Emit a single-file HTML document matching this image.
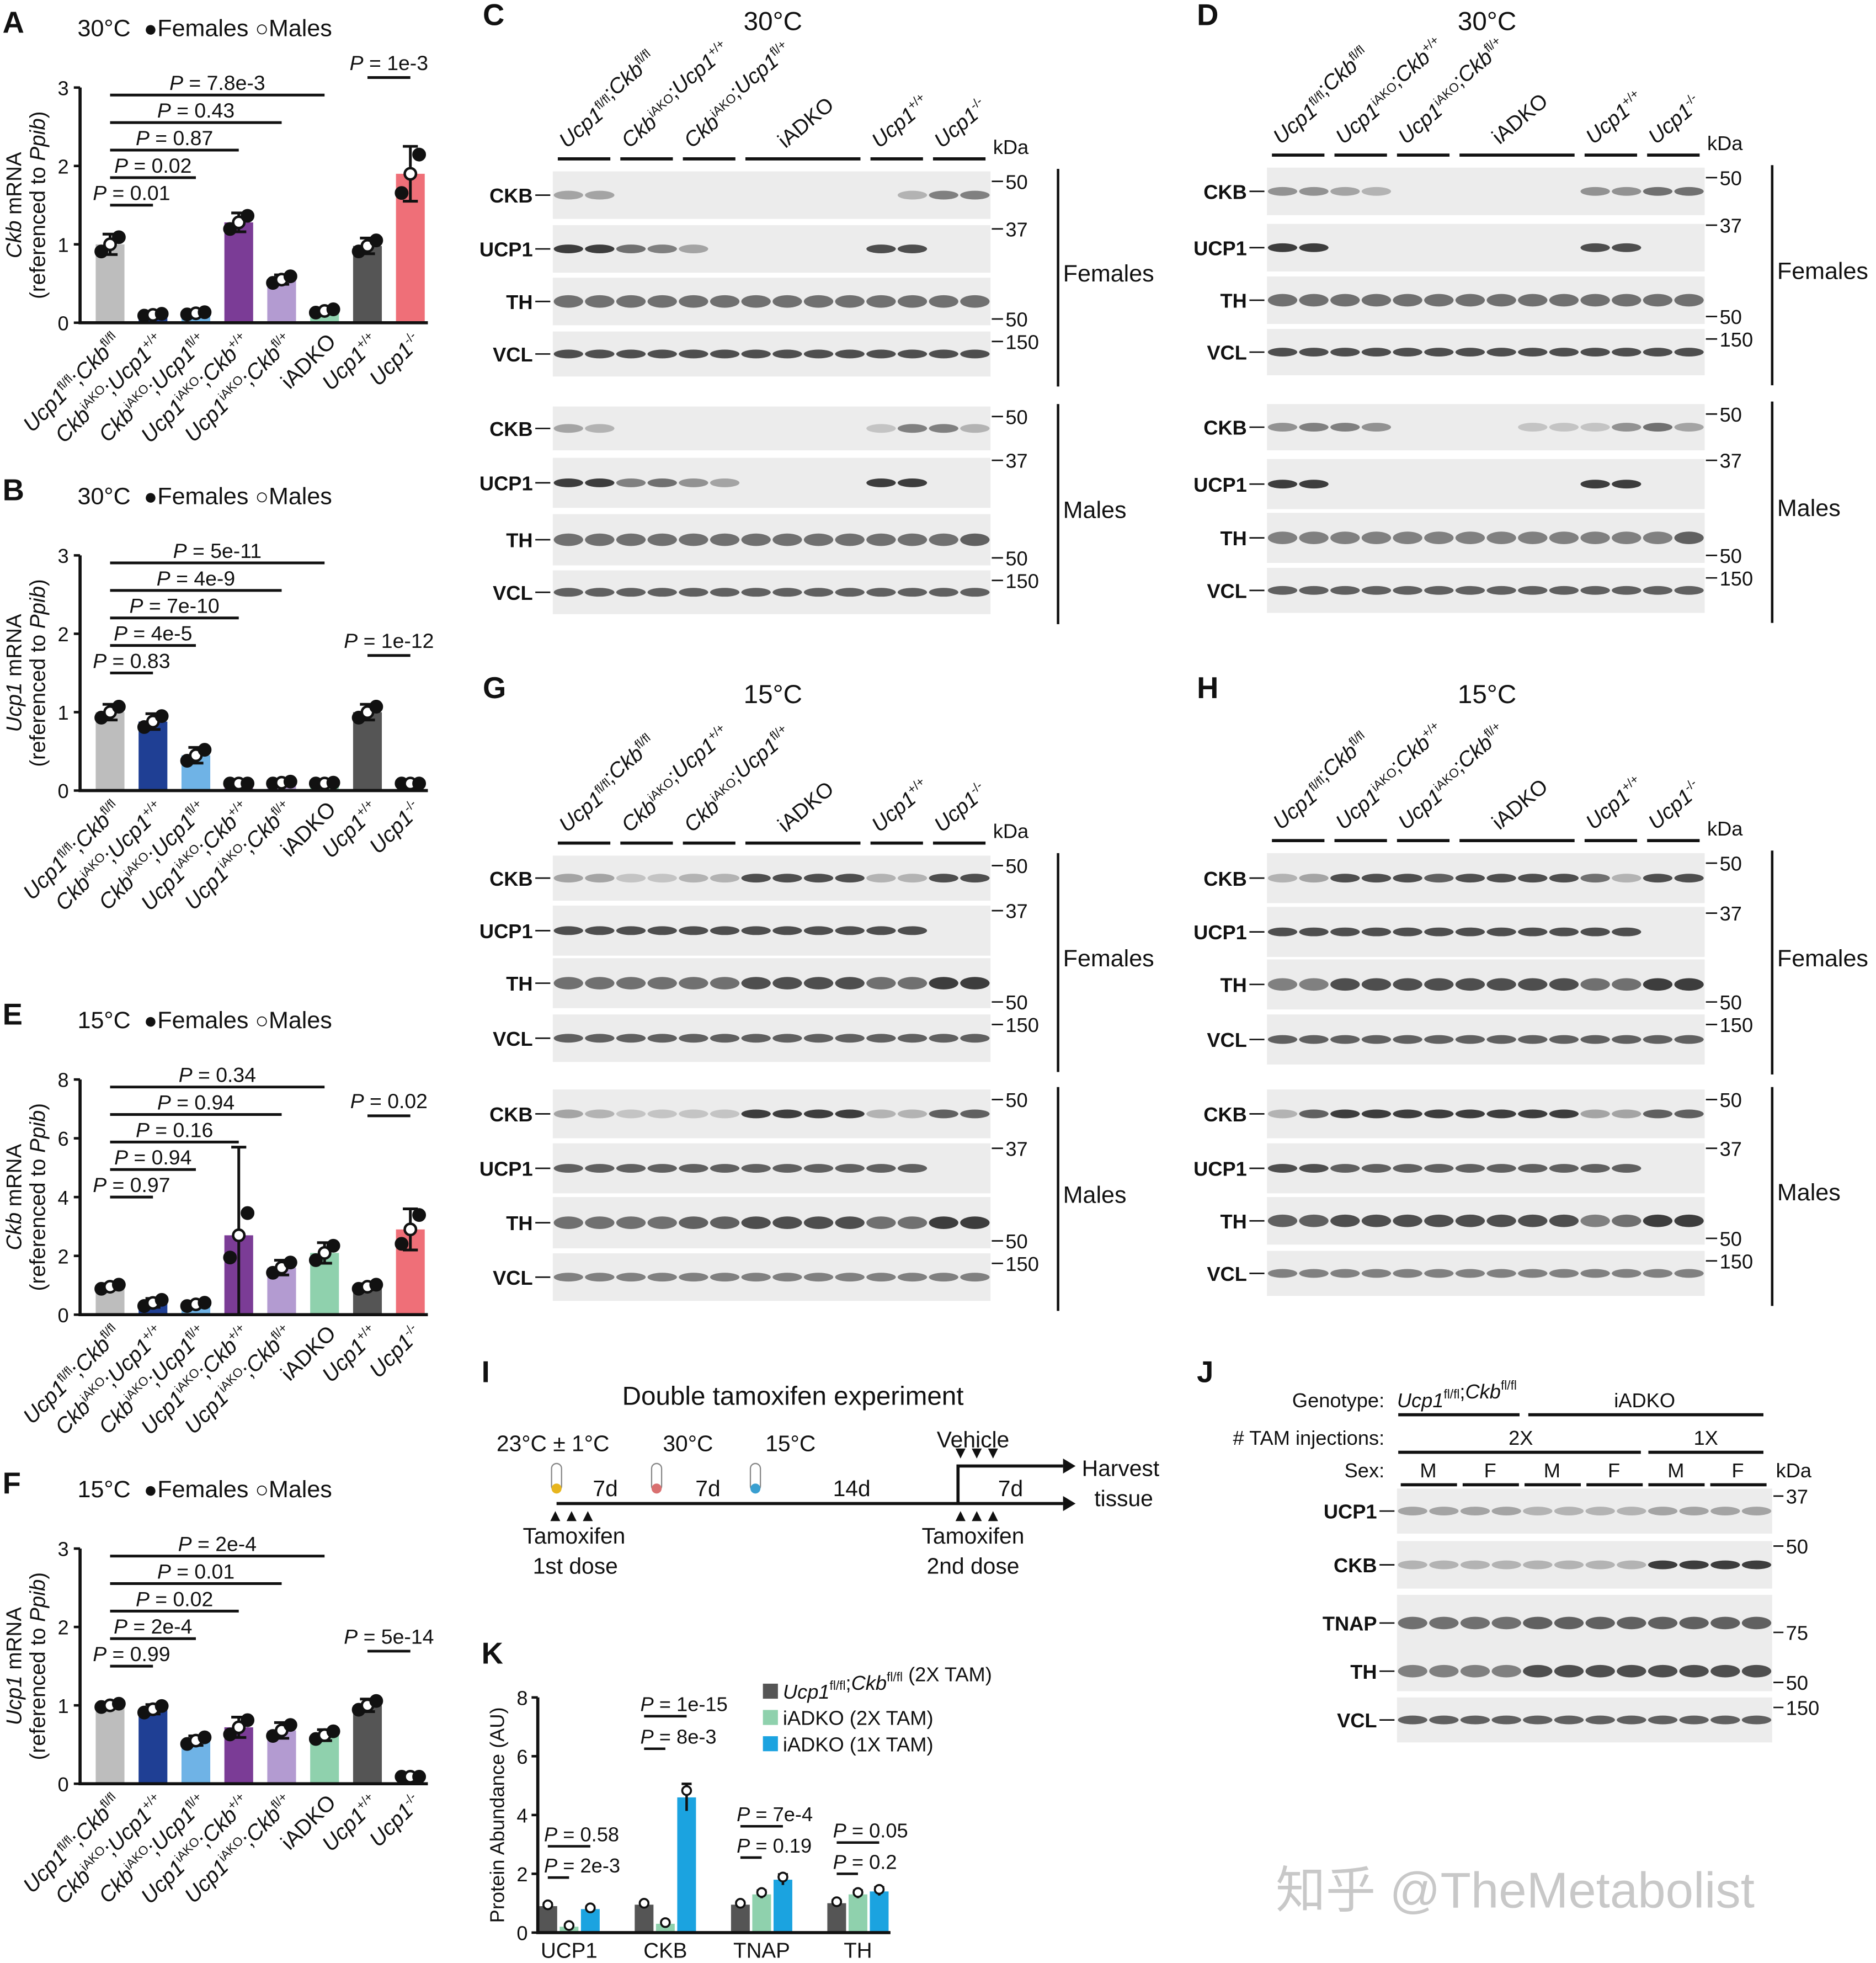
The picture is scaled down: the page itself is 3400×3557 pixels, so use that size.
<!DOCTYPE html>
<html><head><meta charset="utf-8">
<style>
html,body{margin:0;padding:0;background:#fff;}
svg{display:block;font-family:"Liberation Sans",Arial,sans-serif;}
.it{font-style:italic}
</style></head>
<body>
<svg id="fig" xmlns="http://www.w3.org/2000/svg" width="3400" height="3557" viewBox="0 0 1500 1569.3">
<rect x="0" y="0" width="1500" height="1570" fill="#fff"/>
</svg>
<script>
// ---------- data ----------
const genoLabels = [
 '<tspan class="it">Ucp1</tspan><tspan font-size="10" dy="-7">fl/fl</tspan><tspan dy="7">;</tspan><tspan class="it">Ckb</tspan><tspan font-size="10" dy="-7">fl/fl</tspan>',
 '<tspan class="it">Ckb</tspan><tspan font-size="10" dy="-7">iAKO</tspan><tspan dy="7">;</tspan><tspan class="it">Ucp1</tspan><tspan font-size="10" dy="-7">+/+</tspan>',
 '<tspan class="it">Ckb</tspan><tspan font-size="10" dy="-7">iAKO</tspan><tspan dy="7">;</tspan><tspan class="it">Ucp1</tspan><tspan font-size="10" dy="-7">fl/+</tspan>',
 '<tspan class="it">Ucp1</tspan><tspan font-size="10" dy="-7">iAKO</tspan><tspan dy="7">;</tspan><tspan class="it">Ckb</tspan><tspan font-size="10" dy="-7">+/+</tspan>',
 '<tspan class="it">Ucp1</tspan><tspan font-size="10" dy="-7">iAKO</tspan><tspan dy="7">;</tspan><tspan class="it">Ckb</tspan><tspan font-size="10" dy="-7">fl/+</tspan>',
 'iADKO',
 '<tspan class="it">Ucp1</tspan><tspan font-size="10" dy="-7">+/+</tspan>',
 '<tspan class="it">Ucp1</tspan><tspan font-size="10" dy="-7">-/-</tspan>'
];
const barColors = ['#bdbdbd','#1f3f94','#6fb3e6','#7b3c96','#b39bd1','#8fd1ad','#555555','#ef6f78'];
const aVals = [1.0,0.1,0.12,1.28,0.55,0.15,0.98,1.9];
const aErr  = [0.13,0.02,0.02,0.12,0.06,0.03,0.1,0.35];
const aTicks = [0,1,2,3];
const bVals = [1.0,0.88,0.45,0.03,0.1,0.08,1.0,0.01];
const bErr  = [0.1,0.1,0.1,0.02,0.02,0.03,0.1,0.01];
const eVals = [0.95,0.4,0.35,2.7,1.6,2.1,0.95,2.9];
const eErr  = [0.1,0.15,0.08,3.0,0.25,0.35,0.1,0.7];
const eTicks = [0,2,4,6,8];
const fVals = [1.0,0.95,0.55,0.72,0.68,0.62,1.0,0.01];
const fErr  = [0.03,0.06,0.06,0.13,0.1,0.07,0.08,0.01];
const aP = ['0.01','0.02','0.87','0.43','7.8e-3','1e-3'];
const bP = ['0.83','4e-5','7e-10','4e-9','5e-11','1e-12'];
const eP = ['0.97','0.94','0.16','0.94','0.34','0.02'];
const fP = ['0.99','2e-4','0.02','0.01','2e-4','5e-14'];
// panel K
const kCats = ['UCP1','CKB','TNAP','TH'];
const kCtrl = [0.9,0.95,0.95,1.0];
const kIad2 = [0.2,0.3,1.3,1.3];
const kIad1b= [0.8,4.6,1.8,1.4];
const kTicks = [0,2,4,6,8];

// ---------- helpers ----------
const svg = document.getElementById('fig');
const NS = 'http://www.w3.org/2000/svg';
function mk(tag, attrs, parent){
  const e = document.createElementNS(NS, tag);
  for (const k in attrs) e.setAttribute(k, attrs[k]);
  (parent||svg).appendChild(e);
  return e;
}
function txt(x,y,s,opts,parent){
  const e = mk('text', Object.assign({x:x,y:y,'font-size':17,fill:'#111'},opts||{}), parent);
  e.innerHTML = s;
  return e;
}

// ---------- bar charts ----------
function barPanel(cfg){
  const g = mk('g',{});
  
  
  const x0=64, y0=cfg.y0, h=188, ymax=cfg.ticks[cfg.ticks.length-1];
  const X = i => 88 + i*34.3;
  const Y = v => y0 - v/ymax*h;
  const letter = txt(2, cfg.y0-232, cfg.letter, {'font-size':24,'font-weight':'bold'}, g);
  
  
  const title = txt(62, cfg.y0-229, cfg.title+' \u00a0<tspan font-size="18">\u25CF</tspan>Females <tspan font-size="18">\u25CB</tspan>Males', {'font-size':19}, g);
  
  
  cfg.vals.forEach((v,i)=>{
    const r = mk('rect',{x:X(i)-11.5,y:Y(v),width:23,height:y0-Y(v),fill:barColors[i]},g);
    
    
    const e = cfg.err[i];
    const lo = Math.max(0, v-e);
    const eb = mk('path',{d:`M${X(i)} ${Y(lo)}V${Y(v+e)}M${X(i)-6} ${Y(v+e)}H${X(i)+6}M${X(i)-6} ${Y(lo)}H${X(i)+6}`,stroke:'#111','stroke-width':2.2,fill:'none'},g);
    
    
    [-7,0,7].forEach((dx,j)=>{
      const c = mk('circle',{cx:X(i)+dx,cy:Y(Math.max(0.03*ymax, v+(j-1)*Math.min(e,v*0.4)*0.7)),r:4.5,fill:j%2?'#fff':'#111',stroke:'#111','stroke-width':2},g);
      
      
    });
  });
  const ax = mk('path',{d:`M${x0} ${Y(ymax)}V${y0}H${X(7)+14}`,stroke:'#111','stroke-width':2.5,fill:'none'},g);
  
  
  cfg.ticks.forEach(t=>{
    mk('line',{x1:x0-5,x2:x0,y1:Y(t),y2:Y(t),stroke:'#111','stroke-width':2},g);
    const tl = txt(x0-9, Y(t)+6, t, {'text-anchor':'end','font-size':16}, g);
    
    
  });
  const yt = txt(0,0,'<tspan class="it">'+cfg.gene+'</tspan> mRNA',{'text-anchor':'middle','font-size':17,transform:`translate(17 ${y0-94}) rotate(-90)`},g);
  
  
  const yt2 = txt(0,0,'(referenced to <tspan class="it">Ppib</tspan>)',{'text-anchor':'middle','font-size':17,transform:`translate(36 ${y0-94}) rotate(-90)`},g);
  
  
  genoLabels.forEach((s,i)=>{
    const l = txt(0,0,s,{'text-anchor':'end','font-size':17.5,transform:`translate(${X(i)+10} ${y0+16}) rotate(-45)`},g);
    
    
  });
  for(let k=0;k<5;k++){
    const yy = y0-94-k*22;
    const b = mk('line',{x1:X(0),x2:X(k+1),y1:yy,y2:yy,stroke:'#111','stroke-width':2.2},g);
    
    
    const cx = k==4? X(2.5): (X(0)+X(k+1))/2;
    const pl = txt(cx, yy-4, '<tspan class="it">P</tspan> = '+cfg.p[k], {'text-anchor':'middle','font-size':16.5}, g);
    
    
  }
  const yy = cfg.lastY;
  const b = mk('line',{x1:X(6),x2:X(7),y1:yy,y2:yy,stroke:'#111','stroke-width':2.2},g);
  
  
  const pl = txt(X(6.5), yy-6, '<tspan class="it">P</tspan> = '+cfg.p[5], {'text-anchor':'middle','font-size':16.5}, g);
  
  
}
barPanel({name:'panel-a-chart',letter:'A',title:'30°C',gene:'Ckb',y0:258,ticks:aTicks,vals:aVals,err:aErr,p:aP,lastY:62});
barPanel({name:'panel-b-chart',letter:'B',title:'30°C',gene:'Ucp1',y0:632,ticks:aTicks,vals:bVals,err:bErr,p:bP,lastY:524});
barPanel({name:'panel-e-chart',letter:'E',title:'15°C',gene:'Ckb',y0:1051,ticks:eTicks,vals:eVals,err:eErr,p:eP,lastY:892});
barPanel({name:'panel-f-chart',letter:'F',title:'15°C',gene:'Ucp1',y0:1426,ticks:aTicks,vals:fVals,err:fErr,p:fP,lastY:1320});

// ---------- western blots ----------
const cFem = {CKB:'33000000000255', UCP1:'99653000008800', TH:'66666666666666', VCL:'88888888888888'};
const cMal = {CKB:'32000000001552', UCP1:'99564300009900', TH:'66666666666667', VCL:'77777777777777'};
const dFem = {CKB:'44320000004466', UCP1:'99000000008800', TH:'66666666666666', VCL:'88888888888888'};
const dMal = {CKB:'45540000111463', UCP1:'99000000009900', TH:'55555555555557', VCL:'77777777777777'};
const gFem = {CKB:'33112288882288', UCP1:'88888888888800', TH:'66666688886699', VCL:'77777777777777'};
const gMal = {CKB:'32111199992277', UCP1:'77777777777700', TH:'66667788886699', VCL:'55555555555555'};
const hFem = {CKB:'23888788886288', UCP1:'88888888888800', TH:'55888888886699', VCL:'77777777777777'};
const hMal = {CKB:'27999999993377', UCP1:'88777777777700', TH:'77888888885699', VCL:'55555555555555'};
const jRows = {UCP1:'333322223333', CKB:'222222229999', TNAP:'666677777777', TH:'555588888888', VCL:'777777777777'};

function blot(name, x0, w, rows, ints, kdaRight, parent){
  const g = mk('g',{},parent);
  
  
  rows.forEach(r=>{
    const s = ints[r.l]; const n = s.length;
    const bg = mk('rect',{x:x0,y:r.y,width:w,height:r.h,fill:'#ececec'},g);
    
    
    for(let i=0;i<n;i++){
      const v = +s[i]/9;
      if(v<=0) continue;
      const bx = x0 + (i+0.5)*w/n;
      const band = mk('ellipse',{cx:bx,cy:r.y+r.h/2,rx:w/n*0.47,ry:r.l=='TH'||r.l=='TNAP'?5:3.5,fill:'#111','fill-opacity':(0.1+v*0.7).toFixed(2)},g);
      
      
    }
    const lb = txt(x0-16, r.y+r.h/2+6, r.l, {'text-anchor':'end','font-size':16,'font-weight':'bold'}, g);
    
    
    mk('line',{x1:x0-14,x2:x0-2,y1:r.y+r.h/2,y2:r.y+r.h/2,stroke:'#111','stroke-width':1.2},g);
  });
}
function blotPanel(cfg){
  const g = mk('g',{});
  
  
  const L = txt(cfg.x0-56, cfg.top, cfg.letter, {'font-size':24,'font-weight':'bold'}, g);
  
  
  const T = txt(cfg.x0+176, cfg.top+4, cfg.title, {'font-size':21,'text-anchor':'middle'}, g);
  
  
  const groups = cfg.groups; const lw = 350/14;
  let lane=0;
  groups.forEach(gr=>{
    const xa = cfg.x0+lane*lw+4, xb = cfg.x0+(lane+gr[1])*lw-4;
    const u = mk('line',{x1:xa,x2:xb,y1:cfg.rows[0].y-10,y2:cfg.rows[0].y-10,stroke:'#111','stroke-width':2.5},g);
    
    
    const gl = txt(0,0,gr[0],{'font-size':17,transform:`translate(${(xa+xb)/2-14} ${cfg.rows[0].y-18}) rotate(-40)`},g);
    
    
    lane+=gr[1];
  });
  const kd = txt(cfg.x0+352, cfg.rows[0].y-14, 'kDa', {'font-size':16}, g);
  
  
  blot('female-blot', cfg.x0, 350, cfg.rows.slice(0,4), cfg.fem, true, g);
  blot('male-blot', cfg.x0, 350, cfg.rows.slice(4), cfg.mal, true, g);
  [[0,'Females'],[4,'Males']].forEach(([o,s])=>{
    const r0=cfg.rows[o], r3=cfg.rows[o+3];
    const top=r0.y, bot=r3.y+r3.h;
    mk('line',{x1:cfg.x0+404,x2:cfg.x0+404,y1:top-2,y2:bot+8,stroke:'#111','stroke-width':2},g);
    const sl = txt(cfg.x0+408,(top+bot)/2+6,s,{'font-size':19},g);
    
    
    [[r0.y+8,'50'],[r0.y+r0.h+8,'37'],[r3.y-10,'50'],[r3.y+8,'150']].forEach(([y,m])=>{
      mk('line',{x1:cfg.x0+351,x2:cfg.x0+360,y1:y,y2:y,stroke:'#111','stroke-width':1.2},g);
      const mt = txt(cfg.x0+362,y+6,m,{'font-size':16},g);
      
      
    });
  });
}
function R(arr){return arr.map((a,i)=>({l:['CKB','UCP1','TH','VCL'][i%4],y:a[0],h:a[1]-a[0]}));}
const sup=(a)=>'<tspan font-size="10" dy="-7">'+a+'</tspan><tspan dy="7"></tspan>';
const grpC = [['<tspan class="it">Ucp1</tspan>'+sup('fl/fl')+';<tspan class="it">Ckb</tspan>'+sup('fl/fl'),2],['<tspan class="it">Ckb</tspan>'+sup('iAKO')+';<tspan class="it">Ucp1</tspan>'+sup('+/+'),2],['<tspan class="it">Ckb</tspan>'+sup('iAKO')+';<tspan class="it">Ucp1</tspan>'+sup('fl/+'),2],['iADKO',4],['<tspan class="it">Ucp1</tspan>'+sup('+/+'),2],['<tspan class="it">Ucp1</tspan>'+sup('-/-'),2]];
const grpD = [grpC[0],['<tspan class="it">Ucp1</tspan>'+sup('iAKO')+';<tspan class="it">Ckb</tspan>'+sup('+/+'),2],['<tspan class="it">Ucp1</tspan>'+sup('iAKO')+';<tspan class="it">Ckb</tspan>'+sup('fl/+'),2],['iADKO',4],grpC[4],grpC[5]];
blotPanel({name:'panel-c-blot',letter:'C',title:'30°C',x0:442,top:20,groups:grpC,fem:cFem,mal:cMal,
  rows:R([[137,175],[180,218],[222,260],[265,301],[325,360],[366,406],[411,452],[456,491]])});
blotPanel({name:'panel-d-blot',letter:'D',title:'30°C',x0:1013,top:20,groups:grpD,fem:dFem,mal:dMal,
  rows:R([[134,172],[179,217],[221,259],[263,300],[323,360],[367,407],[410,450],[454,490]])});
blotPanel({name:'panel-g-blot',letter:'G',title:'15°C',x0:442,top:558,groups:grpC,fem:gFem,mal:gMal,
  rows:R([[684,720],[724,764],[766,806],[811,849],[871,910],[914,954],[957,998],[1002,1040]])});
blotPanel({name:'panel-h-blot',letter:'H',title:'15°C',x0:1013,top:558,groups:grpD,fem:hFem,mal:hMal,
  rows:R([[682,722],[725,765],[767,807],[811,851],[871,910],[914,954],[957,995],[1000,1036]])});

// ---------- panel J ----------
(function(){
  const g = mk('g',{});
  
  
  const L = txt(957,1105,'J',{'font-size':24,'font-weight':'bold'},g);
  
  
  const h1 = txt(1107,1125,'Genotype:',{'font-size':16,'text-anchor':'end'},g);
  
  
  txt(1117,1125,'<tspan class="it">Ucp1</tspan>'+sup('fl/fl')+';<tspan class="it">Ckb</tspan>'+sup('fl/fl'),{'font-size':16},g);
  txt(1315,1125,'iADKO',{'font-size':16,'text-anchor':'middle'},g);
  mk('path',{d:'M1118 1131H1215M1222 1131H1410',stroke:'#111','stroke-width':2.5},g);
  const h2 = txt(1107,1155,'# TAM injections:',{'font-size':16,'text-anchor':'end'},g);
  
  
  txt(1216,1155,'2X',{'font-size':16,'text-anchor':'middle'},g);
  txt(1364,1155,'1X',{'font-size':16,'text-anchor':'middle'},g);
  mk('path',{d:'M1118 1161H1312M1318 1161H1410',stroke:'#111','stroke-width':2.5},g);
  const h3 = txt(1107,1181,'Sex:',{'font-size':16,'text-anchor':'end'},g);
  
  
  ['M','F','M','F','M','F'].forEach((s,i)=>{
    txt(1142+i*49.5,1181,s,{'font-size':16,'text-anchor':'middle'},g);
    mk('line',{x1:1120+i*49.5,x2:1165+i*49.5,y1:1187,y2:1187,stroke:'#111','stroke-width':2.5},g);
  });
  txt(1420,1181,'kDa',{'font-size':16},g);
  const rows = [['UCP1',1190,1226],['CKB',1232,1270],['TNAP',1275,1320],['TH',1320,1352],['VCL',1357,1393]].map(a=>({l:a[0],y:a[1],h:a[2]-a[1]}));
  blot('j-blot',1117,300,rows,jRows,false,g);
  [[1196,'37'],[1236,'50'],[1305,'75'],[1345,'50'],[1365,'150']].forEach(([y,m])=>{
    mk('line',{x1:1418,x2:1426,y1:y,y2:y,stroke:'#111','stroke-width':1.2},g);
    txt(1428,y+6,m,{'font-size':16},g);
  });
})();

// ---------- panel I ----------
(function(){
  const g = mk('g',{});
  
  
  const L = txt(385,1105,'I',{'font-size':24,'font-weight':'bold'},g);
  
  
  const t = txt(634,1123,'Double tamoxifen experiment',{'font-size':21,'text-anchor':'middle'},g);
  
  
  mk('path',{d:'M445 1202H850',stroke:'#111','stroke-width':2.5},g);
  mk('path',{d:'M850 1196L860 1202L850 1208Z',fill:'#111'},g);
  mk('path',{d:'M766 1202V1172H850',stroke:'#111','stroke-width':2.5,fill:'none'},g);
  mk('path',{d:'M850 1166L860 1172L850 1178Z',fill:'#111'},g);
  [[445,'#e7b51e'],[525,'#d97070'],[604,'#3a9fd0']].forEach(([x,c])=>{
    const th = mk('rect',{x:x-4,y:1170,width:8,height:22,rx:4,fill:'#fff',stroke:'#888'},g);
    
    
    mk('circle',{cx:x,cy:1190,r:4,fill:c},g);
  });
  [[397,1160,'23°C ± 1°C'],[530,1160,'30°C'],[612,1160,'15°C'],[474,1196,'7d'],[556,1196,'7d'],[666,1196,'14d'],[798,1196,'7d'],[749,1157,'Vehicle'],[865,1180,'Harvest'],[875,1204,'tissue'],[418,1234,'Tamoxifen'],[426,1258,'1st dose'],[737,1234,'Tamoxifen'],[741,1258,'2nd dose']].forEach(([x,y,s])=>{
    const e = txt(x,y,s,{'font-size':18},g);
    
    
  });
  [444,457,470,768,781,794].forEach(x=>{
    mk('path',{d:`M${x-4} 1216L${x} 1208L${x+4} 1216Z`,fill:'#111'},g);
  });
  [768,781,794].forEach(x=>mk('path',{d:`M${x-4} 1158L${x} 1166L${x+4} 1158Z`,fill:'#111'},g));
})();

// ---------- panel K ----------
(function(){
  const g = mk('g',{});
  
  
  const L = txt(385,1330,'K',{'font-size':24,'font-weight':'bold'},g);
  
  
  const x0=430, y0=1545, h=188;
  const Y = v => y0 - v/8*h;
  const GX = i => 455 + i*77;
  const series = [[kCtrl,'#555555'],[kIad2,'#8fd1ad'],[kIad1b,'#1ba3e0']];
  series.forEach(([vals,c],s)=>{
    vals.forEach((v,i)=>{
      const x = GX(i) + (s-1)*17;
      const r = mk('rect',{x:x-7.5,y:Y(v),width:15,height:y0-Y(v),fill:c},g);
      
      
      const e = Math.max(0.08, v*0.1);
      mk('path',{d:`M${x} ${Y(v-e)}V${Y(v+e)}M${x-4} ${Y(v+e)}H${x+4}`,stroke:'#111','stroke-width':2},g);
      const c1 = mk('circle',{cx:x,cy:Y(v+e*0.5),r:3.5,fill:'#fff',stroke:'#111','stroke-width':1.6},g);
      
      
    });
  });
  const ax = mk('path',{d:`M${x0} ${Y(8)}V${y0}H712`,stroke:'#111','stroke-width':2.5,fill:'none'},g);
  
  
  kTicks.forEach(t=>{
    mk('line',{x1:x0-5,x2:x0,y1:Y(t),y2:Y(t),stroke:'#111','stroke-width':2},g);
    const tl = txt(x0-8,Y(t)+6,t,{'text-anchor':'end','font-size':16},g);
    
    
  });
  kCats.forEach((c,i)=>{
    const l = txt(GX(i),1565,c,{'text-anchor':'middle','font-size':17},g);
    
    
  });
  const yt = txt(0,0,'Protein Abundance (AU)',{'text-anchor':'middle','font-size':16,transform:`translate(403 1451) rotate(-90)`},g);
  
  
  [['0.58',GX(0),1472,34],['2e-3',GX(0),1497,17],['1e-15',GX(1),1368,34],['8e-3',GX(1),1394,17],['7e-4',GX(2),1456,34],['0.19',GX(2),1481,17],['0.05',GX(3),1469,34],['0.2',GX(3),1494,17]].forEach(([p,cx,y,w])=>{
    mk('line',{x1:cx-17,x2:cx-17+w,y1:y+4,y2:y+4,stroke:'#111','stroke-width':2},g);
    const pl = txt(cx-20,y,'<tspan class="it">P</tspan> = '+p,{'font-size':16},g);
    
    
  });
  [['#555555','<tspan class="it">Ucp1</tspan>'+sup('fl/fl')+';<tspan class="it">Ckb</tspan>'+sup('fl/fl')+' (2X TAM)'],['#8fd1ad','iADKO (2X TAM)'],['#1ba3e0','iADKO (1X TAM)']].forEach(([c,s],i)=>{
    const sw = mk('rect',{x:610,y:1346+i*21,width:12,height:12,fill:c},g);
    
    
    const lt = txt(626,1358+i*21,s,{'font-size':16},g);
    
    
  });
})();

// watermark
const wm = txt(1020,1525,'知乎 @TheMetabolist',{'font-size':40,fill:'#c8c8c8','font-family':'"Liberation Sans","Noto Sans CJK SC",sans-serif'});


</script>
</body></html>
